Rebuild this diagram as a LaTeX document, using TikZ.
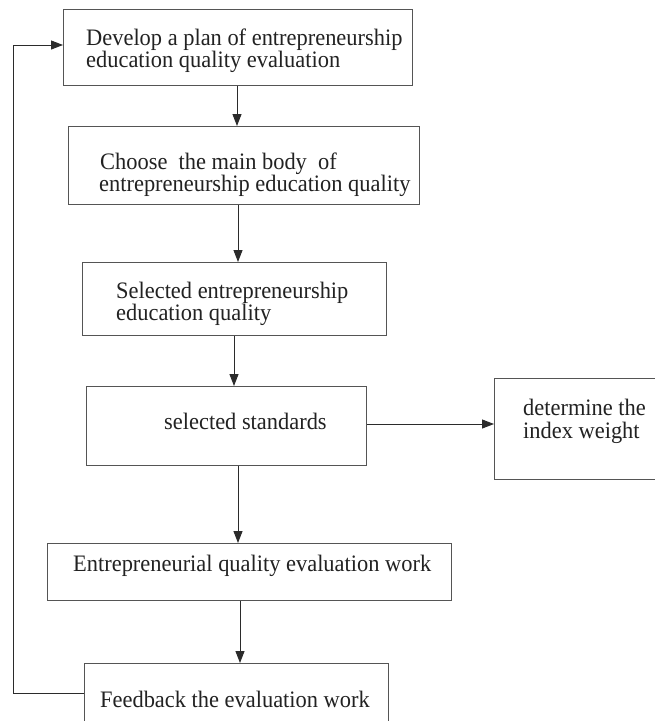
\documentclass[tikz,border=0pt]{standalone}
\usepackage{fontspec}
\setmainfont[FakeStretch=0.95]{Liberation Serif}
\usetikzlibrary{arrows.meta}
\definecolor{linec}{HTML}{555555}
\definecolor{arrc}{HTML}{2B2B2B}
\definecolor{txtc}{HTML}{222222}
\tikzset{
  box/.style={draw=linec, line width=1.3pt, rectangle, inner sep=0pt, anchor=north west},
  txt/.style={anchor=base west, inner sep=0pt, text=txtc, font=\fontsize{23.6}{23.6}\selectfont},
  arr/.style={draw=arrc, line width=1pt, -{Triangle[length=12pt,width=9pt]}},
}
\begin{document}
\begin{tikzpicture}[x=1pt,y=1pt]
\useasboundingbox[fill=white] (0,0) rectangle (655,-721);
% boxes
\node[box, minimum width=349pt, minimum height=76pt] (b1) at (63,-9) {};
\node[box, minimum width=351pt, minimum height=78pt] (b2) at (68,-126) {};
\node[box, minimum width=304pt, minimum height=73pt] (b3) at (82,-262) {};
\node[box, minimum width=280pt, minimum height=79pt] (b4) at (86,-386) {};
\node[box, minimum width=170pt, minimum height=101pt] (b7) at (494,-378) {};
\node[box, minimum width=404pt, minimum height=57pt] (b5) at (47,-543) {};
\node[box, minimum width=304pt, minimum height=70pt] (b6) at (84,-663) {};
% texts
\node[txt] (t1a) at (86,-45) {Develop a plan of entrepreneurship};
\node[txt] (t1b) at (86,-67) {education quality evaluation};
\node[txt] (t2a) at (100,-169) {Choose\ \ the main body\ \ of};
\node[txt] (t2b) at (99,-191) {entrepreneurship education quality};
\node[txt] (t3a) at (116,-298) {Selected entrepreneurship};
\node[txt] (t3b) at (116,-320) {education quality};
\node[txt] (t4) at (164,-429) {selected standards};
\node[txt] (t7a) at (523,-415) {determine the};
\node[txt] (t7b) at (523,-438) {index weight};
\node[txt] (t5) at (73,-571) {Entrepreneurial quality evaluation work};
\node[txt] (t6) at (100,-707) {Feedback the evaluation work};
% arrow columns
\coordinate (c1) at (237,0);
\coordinate (c2) at (238,0);
\coordinate (c3) at (234,0);
\coordinate (c4) at (238,0);
\coordinate (c5) at (240,0);
\coordinate (r4) at (0,-424);
\coordinate (lx) at (13,0);
\coordinate (ly1) at (0,-693);
\coordinate (ly2) at (0,-45);
\draw[arr] (b1.south -| c1) -- (b2.north -| c1);
\draw[arr] (b2.south -| c2) -- (b3.north -| c2);
\draw[arr] (b3.south -| c3) -- (b4.north -| c3);
\draw[arr] (b4.east |- r4) -- (b7.west |- r4);
\draw[arr] (b4.south -| c4) -- (b5.north -| c4);
\draw[arr] (b5.south -| c5) -- (b6.north -| c5);
\draw[arr] (b6.west |- ly1) -- (lx |- ly1) -- (lx |- ly2) -- (b1.west |- ly2);
\end{tikzpicture}
\end{document}
